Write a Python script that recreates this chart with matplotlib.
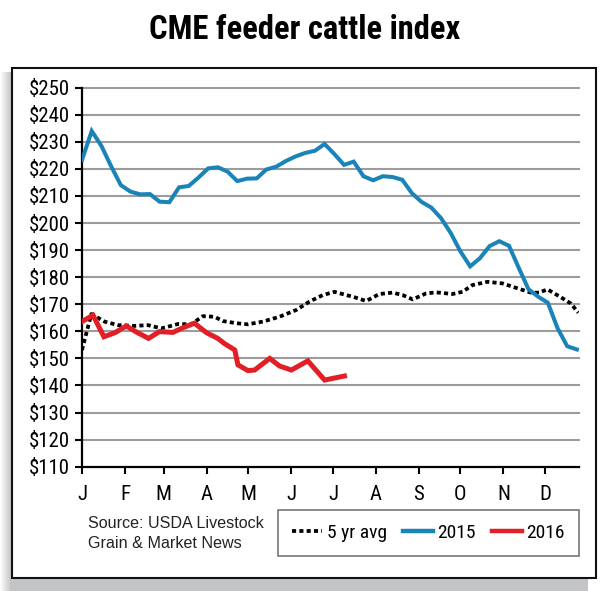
import matplotlib
matplotlib.use("Agg")
import matplotlib.pyplot as plt
from matplotlib import font_manager
from matplotlib.patches import Rectangle
from matplotlib.lines import Line2D
import numpy as np

# ---------------- data ----------------
month_labels = ["J", "F", "M", "A", "M", "J", "J", "A", "S", "O", "N", "D"]
month_start_days = [0, 31, 59, 90, 120, 151, 181, 212, 243, 273, 304, 334]
y_ticks = list(range(110, 251, 10))

# 2015: weekly values
days_2015 = [7 * i for i in range(52)]
vals_2015 = [223.3, 234.0, 228.5, 221.0, 214.0, 211.6, 210.6, 210.7, 207.9, 207.7,
             213.2, 213.7, 216.8, 220.2, 220.6, 219.0, 215.5, 216.4, 216.5, 219.8,
             220.8, 222.9, 224.6, 225.9, 226.7, 229.2, 225.5, 221.5, 222.7, 217.3,
             215.8, 217.3, 217.0, 216.0, 211.0, 207.8, 205.7, 201.8, 196.3, 189.5,
             184.0, 187.0, 191.5, 193.3, 191.6, 183.5, 175.6, 172.8, 170.6, 161.2,
             154.5, 153.3]

# 2016
days_2016 = [0, 7.9, 15.8, 23.8, 31.9, 40.1, 48.0, 55.9, 65.5, 72.7, 81.1, 89.8,
             97.9, 103.0, 110.2, 112.5, 119.7, 124.5, 135.4, 142.5, 151.0, 162.9,
             175.0, 189.3]
vals_2016 = [163.6, 166.0, 158.0, 159.5, 162.0, 159.5, 157.4, 159.9, 159.6, 161.3,
             163.0, 159.5, 157.4, 155.4, 153.1, 147.6, 145.5, 145.7, 150.0, 147.2,
             145.7, 149.1, 142.0, 143.5]

# 5 yr average
days_avg = [0, 6.7, 16.3, 25.9, 37.9, 47.5, 57.1, 61.9, 69.1, 78.7, 87.1, 95.5,
            101.7, 111.4, 119.7, 130.5, 142.5, 154.6, 164.1, 173.7, 182.1, 190.6,
            195.3, 205.0, 214.5, 224.1, 231.3, 238.5, 248.2, 255.4, 267.3, 274.5,
            281.7, 292.5, 303.3, 314.1, 323.8, 329.7, 335.7, 344.1, 352.6, 358.0]
vals_avg = [153.1, 166.4, 163.6, 162.3, 162.0, 162.3, 161.1, 161.7, 162.7, 162.6,
            165.6, 165.4, 163.8, 163.0, 162.6, 163.6, 165.4, 167.9, 171.0, 173.4,
            174.6, 173.4, 172.8, 171.2, 173.8, 174.3, 173.4, 171.8, 174.0, 174.4,
            173.8, 174.6, 177.1, 178.3, 177.7, 175.9, 174.3, 174.3, 175.5, 173.0,
            170.3, 166.9]

series_names = ["5 yr avg", "2015", "2016"]

# ---------------- fonts ----------------
def pick(fams):
    for f in fams:
        try:
            font_manager.findfont(font_manager.FontProperties(family=f), fallback_to_default=False)
            return f
        except Exception:
            pass
    return "DejaVu Sans"

narrow = pick(["Liberation Sans Narrow", "Roboto Condensed", "Liberation Sans"])
regular = pick(["Liberation Sans", "Arial", "DejaVu Sans"])

W, H = 610, 591
fig = plt.figure(figsize=(W / 100, H / 100), dpi=100)
fig.patch.set_facecolor("white")

def fx(px):
    return px / W

def fy(py):
    return 1 - py / H

# shadow / frame
bg = fig.add_axes([0, 0, 1, 1], zorder=-10)
bg.set_xlim(0, W)
bg.set_ylim(H, 0)
bg.axis("off")
grad = np.linspace(0, 1, 50)[None, :]
bg.imshow(np.dstack([1 - 0.24 * grad] * 3), extent=[0, 12, 591, 72], aspect="auto", zorder=0)
bg.add_patch(Rectangle((10, 578), 578, 13, facecolor="#c3c4c7", edgecolor="none", zorder=1))
bg.add_patch(Rectangle((12, 68), 584, 510, facecolor="white", edgecolor="#111111", linewidth=1.5, zorder=2))

# title
fig.text(0.5, fy(30), "CME feeder cattle index", ha="center", va="center",
         fontsize=23.5, fontweight="bold", family=[narrow, "DejaVu Sans"], color="black")

# main axes
ax = fig.add_axes([fx(82), fy(466.7), fx(579) - fx(82), fy(87.7) - fy(466.7)])
ax.set_facecolor("none")
ax.set_xlim(0, 358.5)
ax.set_ylim(110, 250)
ax.set_yticks(y_ticks)
ax.set_yticklabels([f"${v}" for v in y_ticks])
ax.set_xticks(month_start_days)
ax.set_xticklabels(month_labels)
for v in y_ticks[1:]:
    ax.axhline(v, color="#9c9c9c", linewidth=1.5, zorder=1, clip_on=False)
for s in ["top", "right"]:
    ax.spines[s].set_visible(False)
for s in ["left", "bottom"]:
    ax.spines[s].set_linewidth(1.6)
    ax.spines[s].set_color("black")
ax.tick_params(axis="y", length=5, width=1.5, pad=3.5, labelsize=15, direction="out")
ax.tick_params(axis="x", length=5, width=1.5, pad=8, labelsize=15, direction="out")
for lab in ax.get_xticklabels() + ax.get_yticklabels():
    lab.set_family([narrow, "DejaVu Sans"])

l_avg, = ax.plot(days_avg, vals_avg, color="black", linewidth=2.7, dashes=(1.1, 0.85), zorder=3)
l15, = ax.plot(days_2015, vals_2015, color="#1a84b8", linewidth=2.9, zorder=4, solid_joinstyle="miter")
l16, = ax.plot(days_2016, vals_2016, color="#e01f26", linewidth=3.6, zorder=5, solid_joinstyle="miter")

# source
fig.text(fx(88), fy(523), "Source: USDA Livestock", ha="left", va="center",
         fontsize=11.6, family=[regular, "DejaVu Sans"], color="#222222")
fig.text(fx(88), fy(543), "Grain & Market News", ha="left", va="center",
         fontsize=11.6, family=[regular, "DejaVu Sans"], color="#222222")

# legend
h_avg = Line2D([], [], color="black", linewidth=2.7, dashes=(1.1, 0.85))
h15 = Line2D([], [], color="#1a84b8", linewidth=3.2)
h16 = Line2D([], [], color="#e01f26", linewidth=3.2)
leg = fig.legend([h_avg, h15, h16], series_names, loc="center",
                 bbox_to_anchor=(fx(428.5), fy(533)), ncol=3, frameon=True, fancybox=False,
                 edgecolor="#555555", handlelength=1.55, handletextpad=0.25, columnspacing=0.8,
                 borderpad=0.7, borderaxespad=0, prop={"family": narrow, "size": 14})
leg.get_frame().set_linewidth(1.2)

fig.savefig("out.png", dpi=100, facecolor="white")
